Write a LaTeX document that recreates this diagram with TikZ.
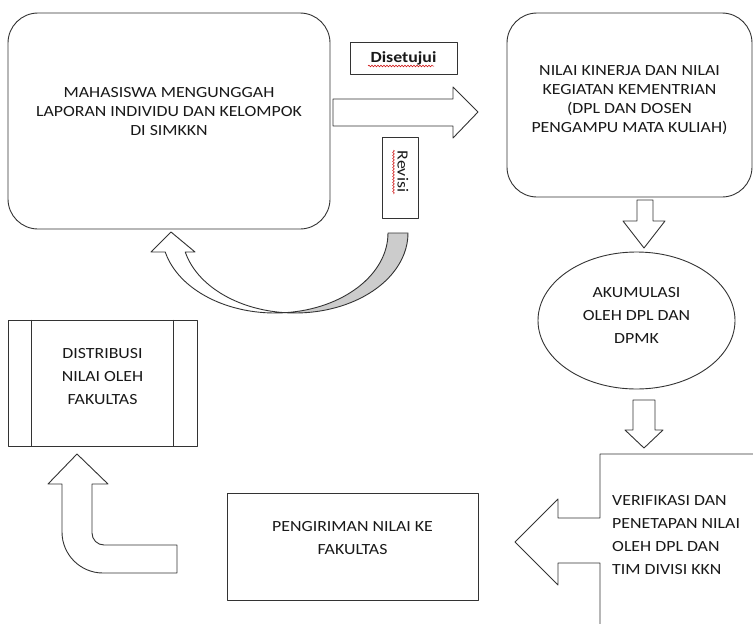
\documentclass[tikz,border=0pt]{standalone}
\usepackage{fontspec}
\setmainfont{Carlito}[FakeStretch=1.15]
\usetikzlibrary{shapes.geometric,decorations.pathmorphing}
\tikzset{
	garis/.style={draw=black!80, line width=0.9pt},
	blok/.style={garis, fill=white},
	kotak/.style={blok, rectangle, inner sep=0pt},
	bulat/.style={kotak, rounded corners=30pt},
	teks/.style={align=center, text=black!90, inner sep=0pt, font=\fontsize{15.5}{19}\selectfont},
	teksluas/.style={teks, font=\fontsize{15.5}{23}\selectfont},
	salah/.style={draw=red!80!black, line width=0.5pt, decorate, decoration={snake, amplitude=0.9pt, segment length=3pt}}
}
\begin{document}
\begin{tikzpicture}[x=1pt, y=-1pt, line join=round]
	\useasboundingbox (0,0) rectangle (753,624);
	\clip (0,0) rectangle (753,624);
	% kotak-kotak
	\node[bulat, minimum width=322pt, minimum height=216pt] (unggah) at (169,121) {};
	\node[teks] (tunggah) at ([yshift=9pt]unggah.center) {MAHASISWA MENGUNGGAH\\LAPORAN INDIVIDU DAN KELOMPOK\\DI SIMKKN};
	\node[bulat, minimum width=245pt, minimum height=184pt] (nilai) at (629.5,105) {};
	\node[teks] (tnilai) at ([yshift=5pt]nilai.center) {NILAI KINERJA DAN NILAI\\KEGIATAN KEMENTRIAN\\(DPL DAN DOSEN\\PENGAMPU MATA KULIAH)};
	\node[blok, ellipse, inner sep=0pt, minimum width=197pt, minimum height=137pt] (akum) at (636.5,320.5) {};
	\node[teksluas] (takum) at ([yshift=5.5pt]akum.center) {AKUMULASI\\OLEH DPL DAN\\DPMK};
	\node[kotak, minimum width=189pt, minimum height=126pt] (distrib) at (102.5,383) {};
	\draw[garis] ([xshift=24pt]distrib.north west) -- ([xshift=24pt]distrib.south west);
	\draw[garis] ([xshift=-24pt]distrib.north east) -- ([xshift=-24pt]distrib.south east);
	\node[teksluas] (tdistrib) at ([yshift=6pt]distrib.center) {DISTRIBUSI\\NILAI OLEH\\FAKULTAS};
	\node[kotak, minimum width=251pt, minimum height=107pt] (kirim) at (352.5,546.5) {};
	\node[teksluas] (tkirim) at ([yshift=8pt]kirim.center) {PENGIRIMAN NILAI KE\\FAKULTAS};
	% label
	\node[kotak, minimum width=107pt, minimum height=32pt] (setuju) at (403.5,58) {};
	\node[teks, font=\fontsize{15.5}{19}\selectfont\bfseries] (tsetuju) at (setuju.center) {Disetujui};
	\draw[salah] (368,66) -- (434,66);
	\node[kotak, minimum width=36pt, minimum height=81pt] (revisi) at (400,177.5) {};
	\node[teks, rotate=-90] (trevisi) at ([xshift=3pt,yshift=6pt]revisi.center) {Revisi};
	\draw[salah] (393.5,150) -- (393.5,194);
	% panah blok
	\draw[blok] (333,99) -- (453,99) -- (453,87) -- (478,112) -- (453,138) -- (453,126) -- (333,126) -- cycle;
	\draw[blok] (637,200) -- (653,200) -- (653,221) -- (665,221) -- (644,248) -- (623,221) -- (637,221) -- cycle;
	\draw[blok] (633,400) -- (655,400) -- (655,430) -- (663,430) -- (644,448) -- (625,430) -- (633,430) -- cycle;
	% panah lengkung revisi
	\draw[blok, fill=black!20] (408,233) arc[start angle=0, end angle=95.08, x radius=113, y radius=80]
		arc[start angle=84.92, end angle=0, x radius=113, y radius=80] -- cycle;
	\draw[blok] (165.23,252) arc[start angle=166.26, end angle=84.92, x radius=113, y radius=80]
		arc[start angle=95.08, end angle=166.26, x radius=113, y radius=80]
		-- (195,252) -- (171,232) -- (151,252) -- cycle;
	% panah belok ke atas
	\draw[blok] (77,454) -- (108,484) -- (92,484) -- (92,533) arc[start angle=180, end angle=90, radius=12]
		-- (177,545) -- (177,573) -- (103,573) arc[start angle=90, end angle=180, radius=41]
		-- (62,484) -- (48,484) -- cycle;
	% callout verifikasi
	\draw[garis] (760,454) -- (600,454) -- (600,518) -- (558,518) -- (558,499) -- (515,542)
		-- (558,585) -- (558,563) -- (600,563) -- (600,630);
	\node[teksluas, align=left, anchor=west] (tverif) at (612,535.5) {VERIFIKASI DAN\\PENETAPAN NILAI\\OLEH DPL DAN\\TIM DIVISI KKN};
\end{tikzpicture}
\end{document}
